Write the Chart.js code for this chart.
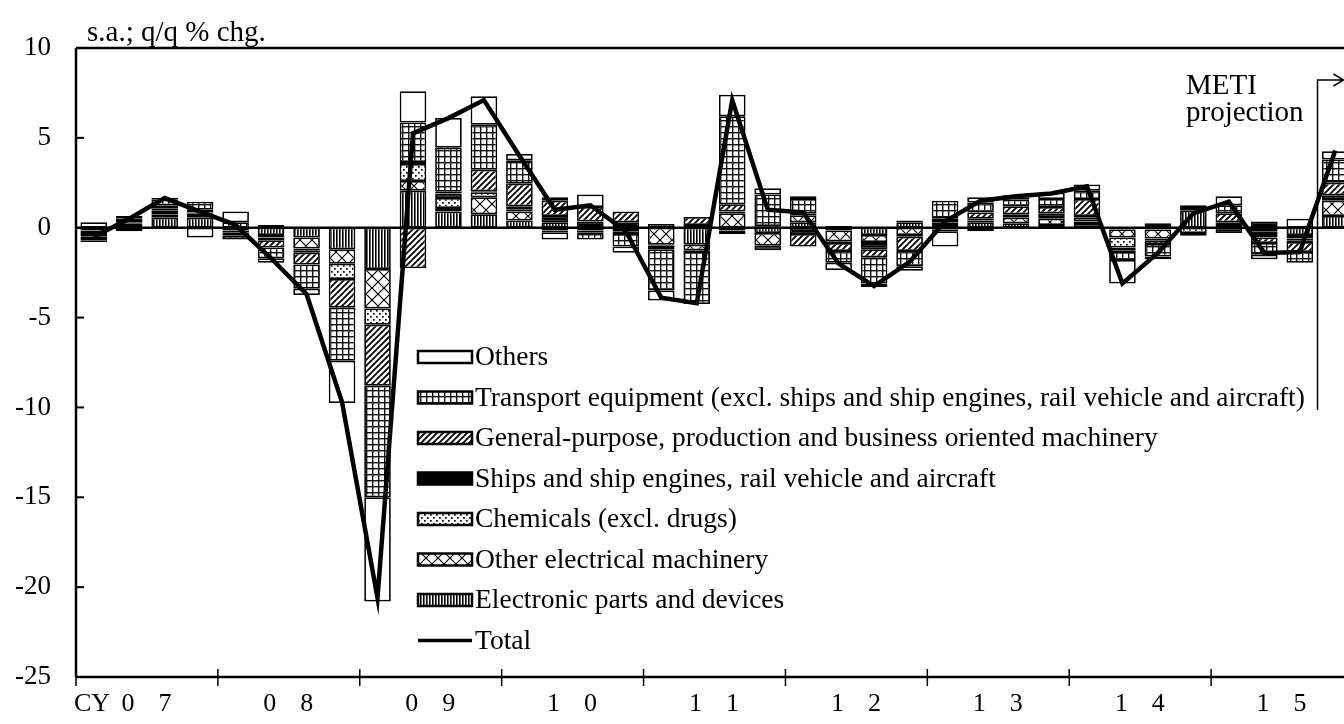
<!DOCTYPE html>
<html>
<head>
<meta charset="utf-8">
<script src="https://cdn.jsdelivr.net/npm/chart.js@4.4.1/dist/chart.umd.min.js"></script>
<style>
html,body{margin:0;padding:0;overflow:hidden;background:#fff;}
#wrap{width:1400px;height:724px;}
</style>
</head>
<body>
<div id="wrap"><canvas id="c" width="1400" height="724"></canvas></div>
<script>
// ---------- DATA ----------
const quarters = [
  "07Q1","07Q2","07Q3","07Q4","08Q1","08Q2","08Q3","08Q4",
  "09Q1","09Q2","09Q3","09Q4","10Q1","10Q2","10Q3","10Q4",
  "11Q1","11Q2","11Q3","11Q4","12Q1","12Q2","12Q3","12Q4",
  "13Q1","13Q2","13Q3","13Q4","14Q1","14Q2","14Q3","14Q4",
  "15Q1","15Q2","15Q3","15Q4"
];
const yearLabels = ["07","08","09","10","11","12","13","14","15"];
const xPrefix = "CY";
const yTicks = [10, 5, 0, -5, -10, -15, -20, -25];
const yTitle = "s.a.; q/q % chg.";
const projectionText = ["METI", "projection"];

const electronic = [-0.15,0.1,0.55,0.55,-0.15,-0.4,-0.55,-1.2,-2.3,2.05,0.9,0.75,0.4,0.3,-0.15,-0.2,0.2,-0.95,-0.15,-0.3,0.3,-0.15,-0.4,0.3,0.15,0.3,0.25,0.15,0.2,-0.1,-0.1,0.95,0.1,-0.2,-0.4,0.65];
const otherElec  = [-0.15,0.05,0.2,0.1,-0.1,-0.15,-0.6,-0.8,-2.2,0.55,0.2,0.95,0.5,-0.15,-0.1,-0.1,-0.95,-0.3,0.8,-0.7,0.4,-0.6,-0.4,-0.4,0.15,0.1,0.3,0.35,0.15,-0.45,-0.5,0,0.1,-0.15,-0.2,0.85];
const chemicals  = [-0.1,0.1,0.2,0.15,-0.1,-0.15,-0.1,-0.85,-0.9,0.95,0.55,0.28,0.1,-0.1,0,-0.05,-0.05,-0.1,0.1,0.05,0.1,-0.1,-0.1,-0.1,-0.1,0.1,0.1,0.1,0.2,-0.55,-0.1,-0.3,0.1,-0.2,-0.1,0.1];
const ships      = [-0.1,0.05,0.1,0.05,-0.1,0.15,-0.15,0,0,0.1,0.25,0.05,0.2,0.35,0.35,0.3,-0.2,0.15,-0.2,-0.25,-0.35,0.1,-0.3,0.1,-0.1,-0.2,0.1,0.2,0.1,-0.15,0.25,0.3,-0.3,0.35,-0.1,0.2];
const general    = [-0.2,0.2,0.2,0.15,-0.2,-0.4,-0.65,-1.6,-3.4,-2.25,0.1,1.2,1.25,0.85,0.8,0.6,0,0.45,0.4,0.05,-0.7,-0.45,-0.45,-0.8,0.2,0.35,0.45,0.35,0.95,-0.1,-0.2,0,0.5,-0.3,-0.55,0.7];
const transport  = [-0.1,0.15,0.3,0.45,0.3,-0.6,-1.35,-2.95,-6.2,2.2,2.45,2.5,1.3,0.2,-0.4,-0.7,-2.3,-2.9,4.9,1.75,0.8,-0.65,-1.45,-0.85,1.0,0.55,0.35,0.45,0.45,-0.45,-0.7,0,0.45,-0.65,-0.6,1.3];
const others     = [0.3,-0.2,0.1,-0.55,0.6,-0.25,-0.35,-2.35,-5.8,1.75,1.65,1.58,0.35,-0.4,0.7,-0.35,-0.55,0,1.2,0.35,0.15,-0.4,-0.2,-0.25,-0.85,0.3,0.25,0.35,0.35,-1.3,-0.15,-0.15,0.5,-0.25,0.5,0.45];
const total      = [-0.5,0.5,1.65,0.9,0.15,-1.7,-3.7,-9.7,-20.6,5.25,6.1,7.1,4.0,1.0,1.25,-0.2,-3.9,-4.2,7.1,1.0,0.85,-2.0,-3.25,-1.9,0.35,1.5,1.75,1.9,2.3,-3.1,-1.4,0.8,1.45,-1.4,-1.35,4.3];

const seriesNames = [
  "Electronic parts and devices",
  "Other electrical machinery",
  "Chemicals (excl. drugs)",
  "Ships and ship engines, rail vehicle and aircraft",
  "General-purpose, production and business oriented machinery",
  "Transport equipment (excl. ships and ship engines, rail vehicle and aircraft)",
  "Others"
];
const totalName = "Total";

// ---------- PATTERNS ----------
const canvas = document.getElementById('c');
const ctx = canvas.getContext('2d');
function pat(w, h, draw) {
  const t = document.createElement('canvas');
  t.width = w; t.height = h;
  const g = t.getContext('2d');
  g.fillStyle = '#fff'; g.fillRect(0, 0, w, h);
  g.fillStyle = '#000'; g.strokeStyle = '#000';
  draw(g, w, h);
  return ctx.createPattern(t, 'repeat');
}
const pVert = pat(3, 3, g => { g.fillRect(0, 0, 1.6, 3); });
const pCross = pat(12, 12, g => {
  g.lineWidth = 1.2;
  g.beginPath(); g.moveTo(0, 0); g.lineTo(12, 12); g.moveTo(12, 0); g.lineTo(0, 12); g.stroke();
});
const pDots = pat(6, 6, g => { g.fillRect(1, 1, 1.7, 1.7); g.fillRect(4, 4, 1.7, 1.7); });
const pDiag = pat(6, 6, g => {
  g.lineWidth = 1.8;
  g.beginPath();
  g.moveTo(-1, 7); g.lineTo(7, -1);
  g.moveTo(-1, 1); g.lineTo(1, -1);
  g.moveTo(5, 7); g.lineTo(7, 5);
  g.stroke();
});
const pGrid = pat(6, 6, g => { g.fillStyle = '#111'; g.fillRect(0, 0, 6, 1.4); g.fillRect(0, 0, 1.4, 6); });
const fills = [pVert, pCross, pDots, '#000', pDiag, pGrid, '#fff'];
const seriesData = [electronic, otherElec, chemicals, ships, general, transport, others];

const barSets = seriesData.map((d, i) => ({
  type: 'bar',
  label: seriesNames[i],
  data: d,
  backgroundColor: fills[i],
  borderColor: '#000',
  borderWidth: 1.75,
  borderSkipped: false,
  barPercentage: 0.75,
  categoryPercentage: 1.0,
  stack: 'bars',
  order: 1
}));
const lineSet = {
  type: 'line',
  label: totalName,
  data: total,
  borderColor: '#000',
  borderWidth: 4.5,
  pointRadius: 0,
  tension: 0,
  fill: false,
  stack: 'total',
  order: 0
};

const FONT = 'Liberation Serif';

const deco = {
  id: 'deco',
  beforeDatasetsDraw(chart) {
    const { ctx, chartArea: a, scales: { y } } = chart;
    ctx.save();
    ctx.strokeStyle = '#000'; ctx.lineWidth = 2.5;
    const y0 = y.getPixelForValue(0);
    ctx.beginPath(); ctx.moveTo(a.left, y0); ctx.lineTo(a.right, y0); ctx.stroke();
    ctx.restore();
  },
  afterDraw(chart) {
    const { ctx, chartArea: a, scales: { x, y } } = chart;
    ctx.save();
    ctx.strokeStyle = '#000'; ctx.fillStyle = '#000';
    // frame
    ctx.lineWidth = 2.5;
    ctx.beginPath();
    ctx.moveTo(a.left, a.top); ctx.lineTo(a.right, a.top);
    ctx.moveTo(a.left, a.top); ctx.lineTo(a.left, a.bottom);
    ctx.moveTo(a.left, a.bottom); ctx.lineTo(a.right, a.bottom);
    ctx.moveTo(a.right, a.top); ctx.lineTo(a.right, a.bottom);
    ctx.stroke();
    // inner y ticks
    ctx.lineWidth = 2;
    yTicks.forEach(v => {
      if (v === yTicks[0] || v === yTicks[yTicks.length - 1] || v === 0) return;
      const py = y.getPixelForValue(v);
      ctx.beginPath(); ctx.moveTo(a.left, py); ctx.lineTo(a.left + 8, py); ctx.stroke();
    });
    // year ticks + labels
    const step = x.getPixelForValue(1) - x.getPixelForValue(0);
    ctx.lineWidth = 1.5;
    for (let k = 0; k <= yearLabels.length; k++) {
      const bx = x.getPixelForValue(4 * k) - step / 2;
      if (bx > a.right + 1) continue;
      ctx.beginPath(); ctx.moveTo(bx, a.bottom - 8); ctx.lineTo(bx, a.bottom + 9); ctx.stroke();
    }
    ctx.font = '26px "' + FONT + '"';
    ctx.textBaseline = 'middle';
    ctx.textAlign = 'center';
    yearLabels.forEach((lab, k) => {
      const cx = (x.getPixelForValue(4 * k + 1) + x.getPixelForValue(4 * k + 2)) / 2;
      ctx.fillText(lab[0], cx - 19, 704);
      ctx.fillText(lab[1], cx + 18, 704);
    });
    ctx.textAlign = 'left';
    ctx.fillText(xPrefix, a.left - 2, 704);
    // title
    ctx.font = '29px "' + FONT + '"';
    ctx.textBaseline = 'alphabetic';
    ctx.fillText(yTitle, 87, 41);
    // projection marker
    const px = (x.getPixelForValue(34) + x.getPixelForValue(35)) / 2;
    ctx.lineWidth = 1.5;
    ctx.beginPath();
    ctx.moveTo(px, 410); ctx.lineTo(px, 80); ctx.lineTo(px + 26, 80);
    ctx.moveTo(px + 16, 74); ctx.lineTo(px + 26, 80); ctx.lineTo(px + 16, 86);
    ctx.stroke();
    ctx.font = '29px "' + FONT + '"';
    ctx.fillText(projectionText[0], 1186, 94);
    ctx.fillText(projectionText[1], 1186, 121);
    // legend
    const lx = 418, lw = 54, lh = 12, ly0 = 357, lstep = 40.5;
    ctx.font = '27.5px "' + FONT + '"';
    ctx.textBaseline = 'middle';
    const ds = chart.data.datasets;
    const items = [];
    for (let i = 6; i >= 0; i--) items.push(ds[i]);
    items.push(ds[7]);
    items.forEach((d, i) => {
      const cy = ly0 + i * lstep;
      if (d.type === 'line') {
        ctx.lineWidth = 3.5;
        ctx.beginPath(); ctx.moveTo(lx, cy); ctx.lineTo(lx + lw, cy); ctx.stroke();
      } else {
        ctx.fillStyle = d.backgroundColor;
        ctx.fillRect(lx, cy - lh / 2, lw, lh);
        ctx.lineWidth = 2.5;
        ctx.strokeRect(lx, cy - lh / 2, lw, lh);
      }
      ctx.fillStyle = '#000';
      ctx.fillText(d.label, lx + lw + 3, cy + 1);
    });
    ctx.restore();
  }
};

new Chart(ctx, {
  data: { labels: quarters, datasets: [...barSets, lineSet] },
  options: {
    responsive: false,
    animation: false,
    layout: { padding: { left: 0, right: 47, top: 48, bottom: 0 } },
    plugins: { legend: { display: false }, tooltip: { enabled: false } },
    scales: {
      x: {
        stacked: true,
        grid: { display: false },
        border: { display: false },
        ticks: { display: false },
        afterFit(s) { s.height = 47; }
      },
      y: {
        stacked: true,
        min: -25, max: 10,
        afterBuildTicks(s) { s.ticks = yTicks.map(v => ({ value: v })); },
        grid: { display: false, drawTicks: false },
        border: { display: false },
        ticks: { padding: 25, color: '#000', font: { family: FONT, size: 27 } },
        afterFit(s) { s.width = 76; }
      }
    }
  },
  plugins: [deco]
});
</script>
</body>
</html>
